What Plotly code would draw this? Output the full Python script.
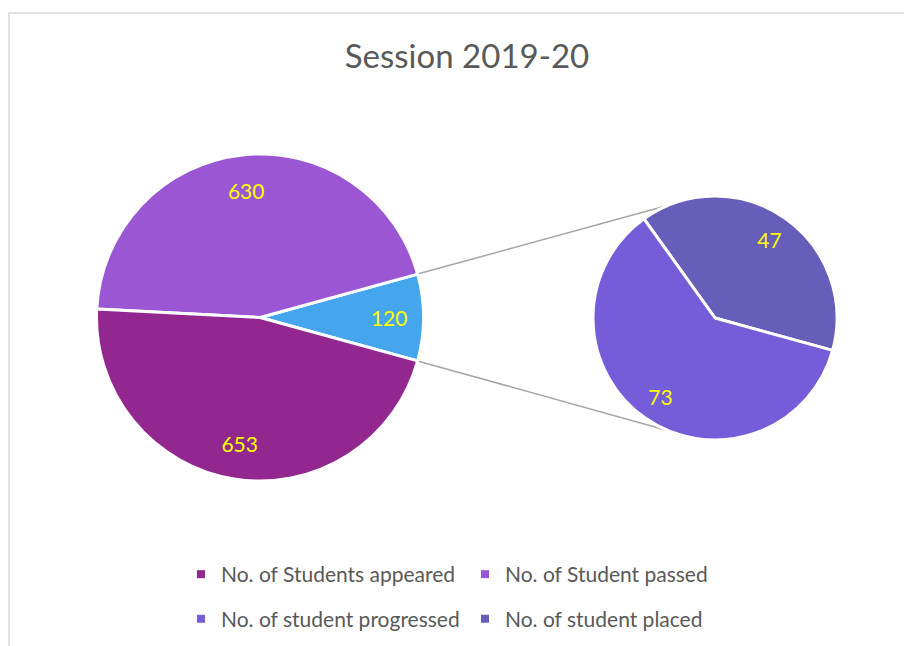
import math
import plotly.graph_objects as go

# ---------------- data ----------------
TITLE = "Session 2019-20"
main_labels = ["Other", "No. of Student passed", "No. of Students appeared"]
main_values = [120, 630, 653]
sub_labels = ["No. of student placed", "No. of student progressed"]
sub_values = [47, 73]
legend_row1 = ["No. of Students appeared", "No. of Student passed"]
legend_row2 = ["No. of student progressed", "No. of student placed"]

# ---------------- style ----------------
COLORS = {
    "No. of Students appeared": "#92278F",
    "No. of Student passed": "#9B57D3",
    "Other": "#45A5ED",
    "No. of student progressed": "#755DD9",
    "No. of student placed": "#665EB8",
}
FONT = "Lato, 'Open Sans', sans-serif"
TEXT_GRAY = "#595959"
LABEL_YELLOW = "#FFFF00"

W, H = 912, 646
PAGE_OFFSET = 8  # default body margin of the html page
MAIN_C, MAIN_R = (260.0, 317.5), 163.5
SUB_C, SUB_R = (715.0, 318.0), 122.0
CONNECT_ANGLE = 112.5  # where leader lines meet the secondary pie (deg)


def px_x(x):
    return (x - PAGE_OFFSET) / W


def px_y(y):
    return 1 - (y - PAGE_OFFSET) / H


def domain(c, r):
    cx, cy = c
    return dict(x=[px_x(cx - r), px_x(cx + r)], y=[px_y(cy + r), px_y(cy - r)])


other_half = 180.0 * main_values[0] / sum(main_values)
main_rotation = 90 - other_half
sub_rotation = 90 + other_half - 360.0 * sub_values[0] / sum(sub_values)

fig = go.Figure()

# main pie (colour)
fig.add_trace(go.Pie(
    labels=main_labels, values=main_values, sort=False,
    direction="counterclockwise", rotation=main_rotation,
    domain=domain(MAIN_C, MAIN_R),
    marker=dict(colors=[COLORS[l] for l in main_labels], line=dict(color="white", width=3)),
    textinfo="none", showlegend=False, hoverinfo="label+value",
))
# secondary pie (colour)
fig.add_trace(go.Pie(
    labels=sub_labels, values=sub_values, sort=False,
    direction="counterclockwise", rotation=sub_rotation,
    domain=domain(SUB_C, SUB_R),
    marker=dict(colors=[COLORS[l] for l in sub_labels], line=dict(color="white", width=3)),
    textinfo="none", showlegend=False, hoverinfo="label+value",
))

# value labels, placed by the library in an outer ring
for labels, values, rot, c, r in [
    (main_labels, main_values, main_rotation, MAIN_C, MAIN_R),
    (sub_labels, sub_values, sub_rotation, SUB_C, SUB_R),
]:
    fig.add_trace(go.Pie(
        labels=labels, values=values, sort=False,
        direction="counterclockwise", rotation=rot, hole=0.56,
        domain=domain(c, r),
        marker=dict(colors=["rgba(0,0,0,0)"] * len(values), line=dict(width=0)),
        textinfo="value", textposition="inside", insidetextorientation="horizontal",
        textfont=dict(family=FONT, size=21, color=LABEL_YELLOW),
        showlegend=False, hoverinfo="skip",
    ))

# legend entries (two rows)
for name in legend_row1:
    fig.add_trace(go.Scatter(x=[None], y=[None], mode="markers", name=name,
                             marker=dict(symbol="square", size=8, color=COLORS[name]),
                             legend="legend"))
for name in legend_row2:
    fig.add_trace(go.Scatter(x=[None], y=[None], mode="markers", name=name,
                             marker=dict(symbol="square", size=8, color=COLORS[name]),
                             legend="legend2"))

# leader lines from the "Other" slice to the secondary pie
shapes = []
for sgn in (1, -1):
    a0 = math.radians(sgn * other_half)
    x0 = MAIN_C[0] + MAIN_R * math.cos(a0)
    y0 = MAIN_C[1] - MAIN_R * math.sin(a0)
    a1 = math.radians(sgn * CONNECT_ANGLE)
    x1 = SUB_C[0] + SUB_R * math.cos(a1)
    y1 = SUB_C[1] - SUB_R * math.sin(a1)
    shapes.append(dict(type="line", xref="paper", yref="paper",
                       x0=px_x(x0), y0=px_y(y0), x1=px_x(x1), y1=px_y(y1),
                       line=dict(color="#A6A6A6", width=1.5), layer="below"))
# chart-area border
shapes.append(dict(type="rect", xref="paper", yref="paper",
                   x0=px_x(9), y0=px_y(680), x1=px_x(940), y1=px_y(13),
                   line=dict(color="#D9D9D9", width=1.5), fillcolor="rgba(0,0,0,0)", layer="below"))

legend_common = dict(orientation="h", xanchor="left", yanchor="middle",
                     font=dict(family=FONT, size=21, color=TEXT_GRAY),
                     bgcolor="rgba(0,0,0,0)", entrywidth=239, itemwidth=30,
                     traceorder="normal")

fig.update_layout(
    width=W, height=H,
    margin=dict(l=0, r=0, t=0, b=0),
    paper_bgcolor="white", plot_bgcolor="white",
    title=dict(text=TITLE, x=px_x(467), xanchor="center", y=px_y(56), yanchor="middle",
               yref="container", font=dict(family=FONT, size=33, color=TEXT_GRAY)),
    xaxis=dict(visible=False), yaxis=dict(visible=False),
    legend=dict(x=px_x(181), y=px_y(574.5), **legend_common),
    legend2=dict(x=px_x(181), y=px_y(619), **legend_common),
    shapes=shapes,
)

fig.write_html("out.html")
